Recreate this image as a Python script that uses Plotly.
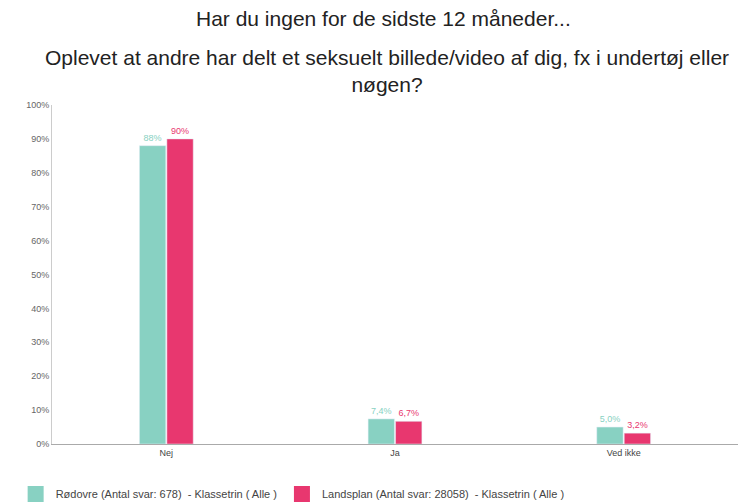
import plotly.graph_objects as go

categories = ["Nej", "Ja", "Ved ikke"]
rodovre = [88, 7.4, 5.0]
landsplan = [90, 6.7, 3.2]
rodovre_labels = ["88%", "7,4%", "5,0%"]
landsplan_labels = ["90%", "6,7%", "3,2%"]
series_names = ["Rødovre (Antal svar: 678)  - Klassetrin ( Alle )",
                "Landsplan (Antal svar: 28058)  - Klassetrin ( Alle )"]
y_ticks = list(range(0, 101, 10))
y_tick_labels = [f"{v}%" for v in y_ticks]

teal = "#88d1c2"
pink = "#e8376f"

fig = go.Figure()
fig.add_trace(go.Bar(x=categories, y=rodovre, name=series_names[0], marker_color=teal,
                     text=rodovre_labels, textposition="outside", showlegend=False,
                     textfont=dict(color=teal, size=9), cliponaxis=False))
fig.add_trace(go.Bar(x=categories, y=landsplan, name=series_names[1], marker_color=pink,
                     text=landsplan_labels, textposition="outside", showlegend=False,
                     textfont=dict(color=pink, size=9), cliponaxis=False))
# legend entries with larger square swatches
for name, col in zip(series_names, [teal, pink]):
    fig.add_trace(go.Scatter(x=[None], y=[None], mode="markers", name=name,
                             marker=dict(symbol="square", size=16, color=col)))

fig.update_layout(
    width=742, height=503,
    margin=dict(l=52, r=4, t=105, b=59, autoexpand=False),
    paper_bgcolor="white", plot_bgcolor="white",
    font=dict(family="Liberation Sans, Arial, sans-serif", color="#555555"),
    barmode="group", bargap=0.76, bargroupgap=0.04,
    showlegend=True,
    legend=dict(orientation="h", x=-0.053, xanchor="left", y=-0.1475, yanchor="middle",
                font=dict(size=11, color="#444444")),
    xaxis=dict(showgrid=False, showline=True, linecolor="#aaaaaa", linewidth=1,
               ticks="", tickfont=dict(size=9, color="#444444"), automargin=False),
    yaxis=dict(range=[0, 100], tickvals=y_ticks, ticktext=y_tick_labels,
               showgrid=False, showline=True, linecolor="#cccccc", linewidth=1,
               ticks="", tickfont=dict(size=9, color="#666666"), zeroline=False,
               automargin=False),
)

fig.add_annotation(text="Har du ingen for de sidste 12 måneder...",
                   x=0.483, xref="paper", y=1.0, yref="paper", yanchor="middle",
                   yshift=87, showarrow=False, font=dict(size=21, color="#222222"))
fig.add_annotation(text="Oplevet at andre har delt et seksuelt billede/video af dig, fx i undertøj eller<br>nøgen?",
                   x=0.488, xref="paper", y=1.0, yref="paper", yanchor="middle",
                   yshift=34, showarrow=False, font=dict(size=21, color="#222222"))

fig.write_html("out.html", config={"displayModeBar": False},
               post_script="document.body.style.margin='0';")
